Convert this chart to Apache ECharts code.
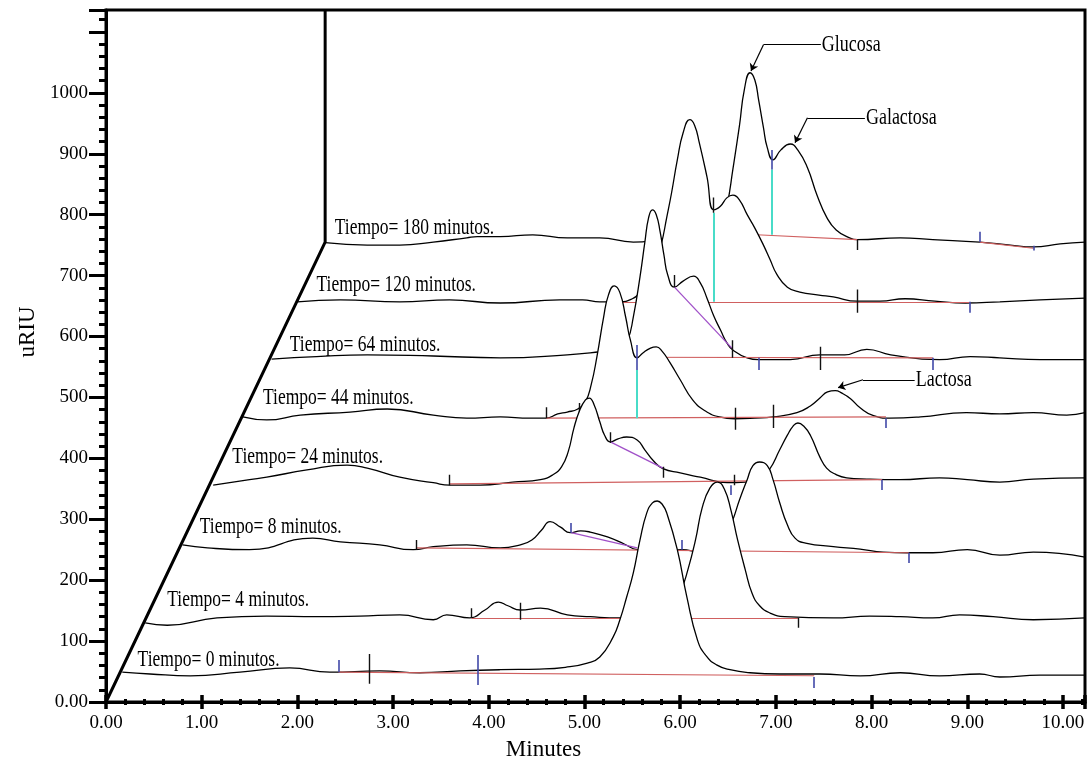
<!DOCTYPE html>
<html><head><meta charset="utf-8">
<script src="https://cdn.jsdelivr.net/npm/echarts@6/dist/echarts.min.js"></script>
<style>html,body{margin:0;padding:0;background:#fff}#c{width:1091px;height:769px}</style>
</head><body><div id="c"></div>
<script>
// ---------------- DATA (plotted minutes / uRIU) ----------------
const traceNames = ['Tiempo= 0 minutos.','Tiempo= 4 minutos.','Tiempo= 8 minutos.','Tiempo= 24 minutos.',
  'Tiempo= 44 minutos.','Tiempo= 64 minutos.','Tiempo= 120 minutos.','Tiempo= 180 minutos.'];

const t0x = [0.17,0.46,0.88,1.40,1.92,2.34,2.86,3.28,3.70,4.12,4.53,4.80,5.03,5.16,5.30,5.37,5.44,5.51,5.58,5.65,5.71,5.76,5.81,5.86,5.97,6.07,6.18,6.27,6.38,6.52,6.73,7.04,7.46,7.88,8.30,8.71,9.13,9.34,9.76,10.23];
const t0y = [49,46,43,49,56,49,51,48,51,53,54,57,64,74,107,135,172,212,266,310,327,330,325,310,250,172,102,76,61,53,48,46,46,43,48,43,46,41,44,44];

const t1x = [0.41,0.64,1.16,1.68,2.20,2.65,3.07,3.42,3.56,3.80,3.96,4.10,4.20,4.33,4.54,4.82,5.06,5.37,5.68,5.81,5.91,6.01,6.08,6.16,6.23,6.31,6.39,6.46,6.53,6.60,6.68,6.75,6.83,6.94,7.09,7.60,7.98,8.30,8.64,8.92,9.27,9.69,10.23];
const t1y = [130,126,138,141,140,141,143,135,143,138,151,164,158,151,154,143,140,138,140,145,156,184,217,266,319,351,361,350,315,266,217,179,158,146,140,138,141,140,138,143,140,135,138];

const t2x = [0.80,1.06,1.50,2.16,2.45,2.86,3.21,3.42,3.77,4.12,4.33,4.45,4.55,4.64,4.75,4.85,4.96,5.06,5.24,5.42,5.55,5.79,6.02,6.21,6.36,6.47,6.55,6.62,6.70,6.76,6.83,6.91,6.97,7.04,7.12,7.20,7.31,7.60,7.88,8.12,8.37,8.64,9.00,9.34,9.69,10.23];
const t2y = [258,253,250,269,263,258,250,255,258,253,258,266,282,296,287,278,281,279,271,259,250,248,250,246,253,269,299,332,365,388,394,388,365,327,291,269,261,255,251,246,245,245,250,241,246,238];

const t3x = [1.12,1.50,1.68,2.10,2.52,2.73,3.07,3.42,3.59,3.91,4.25,4.54,4.67,4.76,4.83,4.89,4.95,5.01,5.05,5.10,5.16,5.21,5.27,5.35,5.44,5.55,5.63,5.72,5.82,6.00,6.21,6.49,6.68,6.83,6.93,7.04,7.12,7.18,7.23,7.29,7.36,7.46,7.53,7.62,7.74,7.95,8.30,8.71,9.00,9.34,9.69,10.23];
const t3y = [356,365,369,381,389,384,369,360,356,356,361,365,373,386,411,450,479,496,499,488,460,438,427,432,435,430,414,396,383,376,369,360,361,368,381,414,438,453,458,453,438,402,384,374,368,366,365,368,365,361,366,368];

const t4x = [1.43,1.68,2.03,2.55,2.94,3.42,3.77,4.12,4.43,4.60,4.72,4.82,4.93,5.01,5.07,5.13,5.20,5.25,5.31,5.37,5.43,5.48,5.55,5.61,5.69,5.75,5.81,5.89,6.00,6.13,6.26,6.41,6.57,6.78,6.97,7.22,7.36,7.46,7.54,7.62,7.69,7.78,7.88,8.02,8.19,8.51,8.99,9.34,9.69,10.04,10.23];
const t4y = [468,463,471,476,481,471,466,468,466,466,473,476,481,493,521,567,632,668,683,672,632,594,565,573,581,583,576,558,529,496,478,468,465,466,468,475,486,499,509,511,507,498,483,470,466,468,475,473,475,471,475];

const t5x = [1.73,2.20,2.73,3.42,4.12,4.82,5.16,5.29,5.37,5.45,5.51,5.58,5.63,5.67,5.71,5.75,5.79,5.83,5.87,5.94,6.03,6.14,6.21,6.28,6.35,6.42,6.49,6.55,6.70,6.82,7.15,7.46,7.72,7.95,8.20,8.71,9.03,9.34,9.76,10.23];
const t5y = [563,567,570,568,565,570,575,578,580,594,632,698,754,795,808,800,772,734,701,681,691,699,688,663,634,611,589,578,565,562,562,570,570,579,570,562,567,565,562,562];

const t6x = [2.00,2.45,3.07,3.59,4.12,4.74,4.98,5.16,5.37,5.50,5.58,5.66,5.74,5.80,5.86,5.91,5.97,6.03,6.10,6.15,6.20,6.28,6.35,6.42,6.49,6.55,6.62,6.70,6.78,6.87,6.94,7.01,7.12,7.25,7.45,7.60,7.85,8.09,8.35,8.66,8.98,9.34,9.76,10.23];
const t6y = [657,660,657,660,655,660,660,657,657,662,672,688,722,750,796,836,890,934,956,947,918,862,808,814,828,832,824,800,778,750,726,702,681,673,668,665,658,658,662,658,655,657,660,663];

const t7x = [2.29,2.73,3.07,3.42,3.77,3.88,4.12,4.46,4.82,5.16,5.51,5.89,6.21,6.33,6.42,6.49,6.55,6.62,6.67,6.73,6.78,6.82,6.87,6.91,6.97,7.05,7.15,7.23,7.33,7.43,7.53,7.63,7.77,7.85,8.30,8.64,9.13,9.45,9.69,9.97,10.23];
const t7y = [754,750,750,755,762,764,764,767,762,762,755,759,757,762,779,816,874,947,1005,1033,1021,988,943,910,890,906,916,906,877,832,796,775,762,759,762,759,755,750,747,752,755];

// integration baselines (red): [trace, x1, y1, x2, y2]
const baselineSegs = [[0,2.43,49,7.40,43],[1,3.82,138,7.23,138],[2,3.24,253,8.39,245],[3,3.59,358,8.11,365],
  [4,4.60,466,8.15,468],[5,5.48,566,8.64,565],[6,5.37,657,9.03,657],[7,6.80,767,7.85,759],[7,9.13,755,9.69,745]];
// peak event marks: [trace, x, yLow, yHigh]
const ticksBlack = [[0,2.75,30,79],[1,3.82,138,154],[1,4.33,135,163],[1,7.23,122,138],[2,3.24,250,266],
  [3,3.59,356,373],[3,5.27,425,443],[3,5.82,368,386],[3,6.57,356,373],
  [4,4.60,466,484],[4,4.94,471,491],[4,6.58,447,483],[4,6.97,450,488],
  [5,5.94,681,701],[5,6.54,565,594],[5,7.46,545,583],[6,6.35,803,828],[6,7.85,639,677],[7,7.85,742,759]];
const ticksBlue = [[0,2.43,49,69],[0,3.88,28,77],[0,7.40,23,41],[2,4.86,278,294],[2,6.02,250,266],[2,8.39,228,245],
  [3,6.53,340,356],[3,8.11,348,365],[4,5.55,545,586],[4,8.15,450,466],[5,6.82,545,565],[5,8.64,545,565],
  [6,9.03,639,657],[7,6.96,874,906],[7,9.13,755,772],[7,9.69,741,749]];
// perpendicular drops (cyan): [trace, x, yLow, yHigh]
const dropLines = [[4,5.55,466,545],[6,6.35,657,803],[7,6.96,767,874]];
// tangent skims (purple): [trace, x1, y1, x2, y2]
const skimLines = [[2,4.86,278,5.55,253],[3,5.27,427,5.82,384],[5,5.94,681,6.54,581]];

// peak names and the apex each arrow points to
const peakLabels = ['Glucosa','Galactosa','Lactosa'];
const peakTipX = [6.74,7.20,7.65];
const peakTipY = [1036,918,516];

// perspective frame (oblique + vertical edge)
const frameX = [0,2.29,2.29];
const frameY = [0,755,1136];

// axis ticks and labels
const xTicks = [0,1,2,3,4,5,6,7,8,9,10];
const xTickLabels = ['0.00','1.00','2.00','3.00','4.00','5.00','6.00','7.00','8.00','9.00','10.00'];
const yTicks = [0,100,200,300,400,500,600,700,800,900,1000];
const yTickLabels = ['0.00','100','200','300','400','500','600','700','800','900','1000'];

// ---------------- LAYOUT ----------------
const traceXs = [t0x,t1x,t2x,t3x,t4x,t5x,t6x,t7x];
const traceYs = [t0y,t1y,t2y,t3y,t4y,t5y,t6y,t7y];
const traceLabelPos = [[0.33,69],[0.64,167],[0.98,287],[1.32,402],[1.64,499],[1.92,586],[2.20,685],[2.39,778]];
const leaderLayout = [
  {elbow:[6.87,1079], end:[7.47,1079]},
  {elbow:[7.33,959], end:[7.93,959]},
  {elbow:[7.91,529], end:[8.45,529]}
];
const FONT = '"Liberation Serif", "Times New Roman", serif';

const chart = echarts.init(document.getElementById('c'), null, {renderer:'canvas'});

const series = [];
for (let k = 0; k < 8; k++) {
  const zb = 4 + 2 * (7 - k);
  series.push({
    type: 'line', name: traceNames[k],
    data: traceXs[k].map((x, i) => [x, traceYs[k][i]]),
    showSymbol: false, symbol: 'none', smooth: 0.5,
    lineStyle: {color: '#000', width: 1.3},
    areaStyle: {color: '#fff', opacity: 1, origin: 'start'},
    z: zb, silent: true, animation: false
  });
  const items = [];
  baselineSegs.filter(s => s[0] === k).forEach(s => items.push({coords: [[s[1], s[2]], [s[3], s[4]]], lineStyle: {color: '#d06060', width: 1.1}}));
  skimLines.filter(s => s[0] === k).forEach(s => items.push({coords: [[s[1], s[2]], [s[3], s[4]]], lineStyle: {color: '#a050c8', width: 1.3}}));
  dropLines.filter(s => s[0] === k).forEach(s => items.push({coords: [[s[1], s[2]], [s[1], s[3]]], lineStyle: {color: '#48dcc8', width: 2}}));
  ticksBlack.filter(s => s[0] === k).forEach(s => items.push({coords: [[s[1], s[2]], [s[1], s[3]]], lineStyle: {color: '#111', width: 1.4}}));
  ticksBlue.filter(s => s[0] === k).forEach(s => items.push({coords: [[s[1], s[2]], [s[1], s[3]]], lineStyle: {color: '#4048a8', width: 1.6}}));
  series.push({
    type: 'lines', coordinateSystem: 'cartesian2d', data: items, z: zb + 1,
    symbol: ['none', 'none'], lineStyle: {opacity: 1, width: 1.2}, silent: true, animation: false
  });
}
series.push({
  type: 'line', data: frameX.map((x, i) => [x, frameY[i]]), showSymbol: false, symbol: 'none',
  lineStyle: {color: '#000', width: 3}, z: 40, silent: true, animation: false
});
series.push({
  type: 'lines', coordinateSystem: 'cartesian2d', z: 40, silent: true, animation: false,
  symbol: ['none', 'none'], lineStyle: {color: '#000', width: 1.2, opacity: 1},
  data: peakLabels.map((n, i) => ({coords: [leaderLayout[i].elbow, leaderLayout[i].end]}))
});
series.push({
  type: 'lines', coordinateSystem: 'cartesian2d', z: 40, silent: true, animation: false,
  symbol: ['none', 'arrow'], symbolSize: 7, lineStyle: {color: '#000', width: 1.2, opacity: 1},
  data: peakLabels.map((n, i) => ({coords: [leaderLayout[i].elbow, [peakTipX[i], peakTipY[i]]]}))
});

const xFmt = v => { const i = xTicks.indexOf(Math.round(v * 1000) / 1000); return i >= 0 ? xTickLabels[i] : ''; };
const yFmt = v => { const i = yTicks.indexOf(Math.round(v * 1000) / 1000); return i >= 0 ? yTickLabels[i] : ''; };

const option = {
  animation: false,
  backgroundColor: '#fff',
  grid: {left: 106, right: 6, top: 10, bottom: 67, show: true, borderColor: '#000', borderWidth: 3,
    backgroundColor: 'transparent', z: 55},
  xAxis: [{
    type: 'value', min: 0, max: 10.23, interval: 1, z: 60,
    axisLine: {show: true, onZero: false, lineStyle: {color: '#000', width: 3}},
    axisTick: {show: true, length: 7, lineStyle: {color: '#000', width: 3.5}},
    minorTick: {show: true, splitNumber: 5, length: 3, lineStyle: {color: '#000', width: 3}},
    splitLine: {show: false}, minorSplitLine: {show: false},
    axisLabel: {margin: 12, fontFamily: FONT, fontSize: 19, color: '#000', formatter: xFmt, showMaxLabel: false},
    name: 'Minutes', nameLocation: 'middle', nameGap: 36,
    nameTextStyle: {fontFamily: FONT, fontSize: 23, color: '#000', padding: [0, 104, 0, 0]}
  }, {
    type: 'value', min: 0, max: 10.23, interval: 1, position: 'bottom', z: 60,
    axisLine: {show: false}, axisLabel: {show: false}, splitLine: {show: false},
    axisTick: {show: true, inside: true, length: 7, lineStyle: {color: '#000', width: 3.5}},
    minorTick: {show: true, splitNumber: 5, length: 3, lineStyle: {color: '#000', width: 3}}
  }],
  yAxis: {
    type: 'value', min: 0, max: 1136, interval: 100, z: 60,
    axisLine: {show: true, onZero: false, lineStyle: {color: '#000', width: 3}},
    axisTick: {show: true, length: 17, lineStyle: {color: '#000', width: 3}},
    minorTick: {show: true, splitNumber: 5, length: 7, lineStyle: {color: '#000', width: 3}},
    splitLine: {show: false},
    axisLabel: {margin: 18, fontFamily: FONT, fontSize: 19, color: '#000', formatter: yFmt, showMaxLabel: false},
    name: 'uRIU', nameLocation: 'middle', nameRotate: 90, nameGap: 66,
    nameTextStyle: {fontFamily: FONT, fontSize: 23, color: '#000', padding: [0, 0, 0, 48]}
  },
  series: series
};
chart.setOption(option);

// text annotations, placed in data coordinates
const toPx = p => chart.convertToPixel({gridIndex: 0}, p);
const graphics = [];
traceNames.forEach((name, k) => {
  const p = toPx(traceLabelPos[k]);
  graphics.push({type: 'text', x: p[0], y: p[1], scaleY: 1.3, z: 100, silent: true,
    style: {text: name, fill: '#000', font: '17.5px ' + FONT, align: 'left', verticalAlign: 'middle',
      textAlign: 'left', textVerticalAlign: 'middle'}});
});
peakLabels.forEach((name, i) => {
  const p = toPx(leaderLayout[i].end);
  graphics.push({type: 'text', x: p[0] + 1, y: p[1], scaleY: 1.3, z: 100, silent: true,
    style: {text: name, fill: '#000', font: '18px ' + FONT, align: 'left', verticalAlign: 'middle',
      textAlign: 'left', textVerticalAlign: 'middle'}});
});
chart.setOption({graphic: graphics});
</script></body></html>
